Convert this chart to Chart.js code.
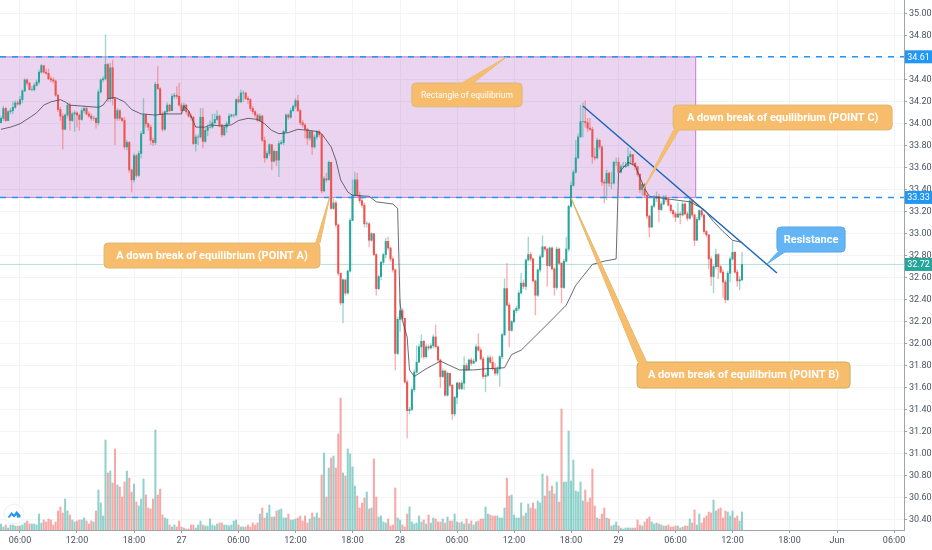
<!DOCTYPE html>
<html>
<head>
<meta charset="utf-8">
<title>Rectangle of equilibrium</title>
<script src="https://cdn.jsdelivr.net/npm/chart.js@4"></script>
<style>
html, body { margin: 0; padding: 0; background: #fff; overflow: hidden; }
canvas { display: block; }
</style>
</head>
<body>
<canvas id="chart" width="932" height="550"></canvas>
<script>
// 15 minute candles. Each candle opens at the previous close.
var firstOpen = 34.01;
var closes = [
  34.05,34.14,34.03,34.11,34.12,34.15,34.19,34.18,34.22,34.30,
  34.40,34.37,34.31,34.31,34.35,34.38,34.47,34.53,34.47,34.46,
  34.41,34.40,34.39,34.26,34.13,34.07,33.95,34.08,34.17,34.03,
  34.09,34.10,34.08,34.04,34.12,34.14,34.09,34.07,34.05,34.05,
  34.01,34.29,34.40,34.41,34.54,34.23,34.51,34.23,34.05,34.12,
  34.05,34.03,33.79,33.83,33.58,33.49,33.71,33.53,33.73,33.91,
  34.08,34.00,33.97,33.85,33.83,34.36,34.32,34.09,33.95,34.11,
  34.17,34.12,34.25,34.26,34.25,34.17,34.12,34.17,34.11,34.07,
  34.06,33.82,33.88,33.88,34.06,33.84,33.94,33.97,33.97,34.01,
  34.04,34.07,33.99,33.90,33.97,34.00,34.07,34.08,34.08,34.22,
  34.20,34.28,34.28,34.23,34.22,34.14,34.11,34.08,34.03,34.07,
  33.85,33.69,33.73,33.81,33.66,33.75,33.67,33.82,33.83,33.93,
  34.08,34.06,34.12,34.16,34.21,34.12,34.01,33.99,33.95,33.87,
  33.93,
  33.79,33.88,33.93,33.90,33.39,33.50,33.49,33.65,33.23,33.28,
  33.08,32.64,32.37,32.58,32.46,32.66,33.12,33.35,33.49,33.35,
  33.30,33.26,33.09,33.09,32.94,33.00,32.81,32.50,32.61,32.74,
  32.81,32.93,32.87,32.77,32.67,31.91,32.22,32.30,32.23,31.65,
  31.39,31.40,31.58,31.74,31.83,31.97,32.02,31.88,31.97,31.96,
  31.98,32.06,31.97,31.85,31.70,31.75,31.53,31.73,31.62,31.36,
  31.51,31.64,31.59,31.64,31.80,31.76,31.85,31.82,31.84,31.97,
  31.94,31.86,31.70,31.71,31.87,31.83,31.77,31.73,31.77,31.88,
  32.08,32.50,32.35,32.12,32.20,32.30,32.32,32.46,32.55,32.52,
  32.76,32.81,32.77,32.57,32.44,32.67,32.79,32.88,32.86,32.71,
  32.87,32.68,32.51,32.86,32.73,32.51,32.75,32.86,33.25,
  33.44,33.56,33.69,33.88,34.02,34.02,34.01,33.96,33.95,33.70,
  33.69,33.85,33.79,33.47,33.46,33.55,33.46,33.46,33.65,33.65,
  33.56,33.61,33.61,33.62,33.70,33.72,33.64,33.61,33.54,33.40,
  33.45,33.35,33.16,33.06,33.25,33.32,33.34,33.22,33.27,33.33,
  33.31,33.26,33.21,33.18,33.15,33.18,33.17,33.27,33.18,33.14,
  33.30,33.17,32.94,33.13,33.21,33.17,33.02,32.99,32.77,32.61,
  32.70,32.81,32.70,32.65,32.56,32.40,32.64,32.77,32.83,32.65,
  32.57,32.58,32.72
];
var highs = [
  34.07,34.16,34.15,34.12,34.14,34.20,34.21,34.21,34.25,34.31,
  34.41,34.41,34.38,34.34,34.37,34.40,34.49,34.54,34.53,34.50,
  34.50,34.43,34.42,34.40,34.27,34.15,34.09,34.09,34.19,34.19,
  34.11,34.12,34.11,34.09,34.14,34.16,34.15,34.11,34.09,34.07,
  34.06,34.31,34.41,34.43,34.81,34.55,34.55,34.58,34.22,34.14,
  34.13,34.06,34.06,33.85,33.84,33.59,33.73,33.72,33.75,33.93,
  34.23,34.09,34.01,33.99,33.87,34.38,34.52,34.33,34.11,34.12,
  34.19,34.18,34.27,34.28,34.34,34.37,34.19,34.19,34.18,34.12,
  34.09,34.07,33.90,33.90,34.14,34.14,33.96,33.99,34.03,34.09,
  34.09,34.12,34.08,33.99,33.99,34.02,34.09,34.09,34.09,34.23,
  34.25,34.31,34.30,34.29,34.25,34.23,34.16,34.12,34.09,34.09,
  34.08,33.88,33.75,33.82,33.81,33.76,33.75,33.84,33.85,33.94,
  34.09,34.09,34.14,34.17,34.23,34.26,34.13,34.03,34.00,33.96,
  33.94,
  33.93,33.90,33.94,33.94,33.90,33.52,33.55,33.66,33.65,33.32,
  33.30,33.09,32.64,32.59,32.58,32.67,33.14,33.49,33.56,33.55,
  33.38,33.34,33.28,33.11,33.10,33.01,33.00,32.82,32.62,32.75,
  32.82,32.96,32.97,32.88,32.79,32.68,32.24,32.40,32.32,32.23,
  31.67,31.42,31.60,31.76,31.98,31.99,32.08,32.03,31.99,31.99,
  32.00,32.08,32.17,31.98,31.86,31.77,31.76,31.74,31.73,31.63,
  31.52,31.65,31.65,31.66,31.88,31.82,31.86,31.87,31.86,31.99,
  32.09,31.96,31.88,31.73,31.89,31.89,31.88,31.82,31.79,31.89,
  32.09,32.59,32.73,32.37,32.21,32.31,32.34,32.48,32.64,32.58,
  32.77,32.97,32.83,32.78,32.58,32.68,32.81,32.98,32.88,32.87,
  32.88,32.88,32.69,32.88,32.87,32.74,32.77,32.97,33.26,
  33.47,33.58,33.85,33.91,34.17,34.19,34.21,34.05,34.05,33.97,
  33.78,33.87,33.86,33.80,33.49,33.58,33.56,33.56,33.66,33.69,
  33.69,33.63,33.65,33.65,33.78,33.75,33.72,33.65,33.61,33.55,
  33.46,33.46,33.36,33.17,33.26,33.35,33.38,33.36,33.29,33.35,
  33.35,33.32,33.27,33.22,33.20,33.28,33.20,33.29,33.28,33.20,
  33.32,33.31,33.18,33.15,33.22,33.22,33.18,33.03,32.99,32.79,
  32.71,32.86,32.82,32.71,32.67,32.58,32.66,32.79,32.93,32.84,
  32.67,32.61,32.83
];
var lows = [
  34.01,34.03,34.02,34.03,34.09,34.09,34.14,34.17,34.17,34.19,
  34.29,34.35,34.31,34.30,34.30,34.34,34.36,34.46,34.46,34.45,
  34.40,34.38,34.37,34.25,34.11,34.03,33.77,33.95,34.06,33.94,
  34.02,33.93,33.97,33.94,34.03,34.10,34.08,34.06,34.03,34.03,
  33.96,33.99,34.28,34.38,34.40,34.20,34.20,34.17,33.81,34.03,
  34.03,34.02,33.77,33.76,33.56,33.38,33.47,33.51,33.52,33.69,
  33.91,33.97,33.94,33.81,33.80,33.81,34.31,34.08,33.93,33.94,
  34.09,34.11,34.12,34.23,34.23,34.16,34.09,34.12,34.09,34.06,
  34.03,33.81,33.75,33.81,33.87,33.78,33.83,33.89,33.96,33.96,
  34.00,34.03,33.97,33.88,33.89,33.92,33.99,34.06,34.06,34.07,
  34.19,34.19,34.20,34.22,34.18,34.12,34.09,34.06,34.02,34.02,
  33.84,33.65,33.68,33.71,33.58,33.65,33.62,33.52,33.81,33.81,
  33.92,34.04,34.05,34.11,34.14,34.11,33.99,33.97,33.87,33.81,
  33.85,
  33.72,33.78,33.86,33.88,33.37,33.38,33.47,33.49,33.22,33.22,
  33.06,32.62,32.35,32.19,32.44,32.45,32.65,33.12,33.34,33.34,
  33.28,33.24,33.06,33.06,32.88,32.93,32.80,32.44,32.49,32.58,
  32.72,32.78,32.85,32.75,32.65,31.76,31.90,32.11,32.21,31.64,
  31.14,31.36,31.39,31.56,31.73,31.83,31.87,31.86,31.87,31.94,
  31.95,31.96,31.96,31.83,31.60,31.69,31.52,31.52,31.61,31.31,
  31.34,31.45,31.58,31.58,31.58,31.75,31.76,31.80,31.83,31.83,
  31.93,31.85,31.68,31.56,31.70,31.82,31.76,31.71,31.71,31.61,
  31.86,32.07,32.34,31.97,32.11,32.19,32.28,32.30,32.45,32.50,
  32.49,32.75,32.75,32.56,32.26,32.43,32.65,32.78,32.84,32.52,
  32.70,32.67,32.44,32.49,32.72,32.37,32.50,32.74,32.84,
  33.24,33.43,33.55,33.68,33.88,33.88,33.97,33.93,33.94,33.64,
  33.67,33.68,33.77,33.44,33.28,33.31,33.43,33.41,33.45,33.62,
  33.55,33.55,33.60,33.60,33.61,33.63,33.62,33.58,33.52,33.37,
  33.35,33.34,33.14,32.97,33.06,33.24,33.29,33.11,33.21,33.26,
  33.29,33.25,33.19,33.15,33.11,33.15,33.09,33.16,33.17,33.12,
  33.13,33.15,32.89,32.94,33.12,33.15,33.00,32.97,32.68,32.53,
  32.46,32.68,32.59,32.64,32.42,32.37,32.39,32.56,32.76,32.64,
  32.52,32.49,32.57
];
var volumes = [
  6,3,5,2,5,5,4,4,4,5, 7,9,6,6,6,5,16,7,10,8,
  11,10,5,8,19,23,17,31,19,15, 10,8,9,10,10,12,9,6,9,8,
  19,40,27,14,90,57,59,47,81,45, 43,33,48,59,52,38,46,28,24,31,
  51,35,22,21,31,100,35,41,15,12, 11,5,3,5,3,9,3,2,1,1,
  5,5,2,5,9,5,4,4,11,5, 4,6,7,7,5,5,4,5,9,10,
  5,3,3,3,5,3,7,5,7,16, 22,12,17,25,13,13,19,20,21,12,
  12,16,10,10,11,12,14,9,14,7, 11,17,13,17,12,55,77,33,62,72,
  74,62,96,132,57,54,81,76,63,44, 34,22,27,32,38,21,22,71,33,13,
  14,8,7,11,4,5,42,12,10,5, 3,16,23,8,6,7,14,8,10,6,
  15,7,12,11,8,8,11,7,13,9, 9,16,8,7,8,6,11,6,9,5,
  8,9,11,11,23,16,15,14,14,14, 12,12,22,52,34,35,15,12,12,27,
  14,17,26,22,27,21,29,27,56,34, 54,39,44,36,48,28,121,48,48,99,
  49,70,39,38,48,29,40,28,32,61, 24,12,11,16,22,12,11,4,5,8,
  4,2,1,2,2,2,2,2,10,5, 4,8,11,13,8,6,7,6,5,4,
  4,5,3,3,4,4,2,3,4,4, 11,7,20,5,16,7,12,14,18,17,
  30,19,21,22,12,19,18,14,19,12, 14,9,18
];
// moving average, read at the bends of the line
var maIndex = [
  0,4,8,13,15,18,21,25,27,29,35,41,43,45,48,52,55,59,65,69,76,77,79,81,82,86,88,93,97,100,
  104,108,111,114,117,121,125,130,133,135,139,141,143,146,148,155,158,165,167,168,169,171,172,174,
  179,185,189,193,199,204,212,215,219,227,233,238,242,249,254,259,260,264,267,271,273,283,290,296,300,304,308,312
];
var maValues = [
  33.95,33.97,34.00,34.07,34.10,34.17,34.20,34.22,34.20,34.17,34.16,34.15,34.17,34.23,34.24,34.20,34.13,34.09,34.08,34.09,
  34.09,34.16,34.12,34.02,33.97,33.97,33.99,33.98,33.99,34.03,
  34.05,34.04,34.00,33.94,33.91,33.92,33.95,33.94,33.93,33.91,33.79,33.67,33.49,33.38,33.35,33.34,33.29,33.27,33.23,32.37,32.21,32.06,31.76,31.70,
  31.77,31.84,31.80,31.76,31.76,31.77,31.78,31.90,31.94,32.11,32.24,32.35,32.53,32.72,32.75,32.77,33.55,33.65,33.62,33.41,33.34,33.31,33.29,33.22,33.11,33.02,32.94,32.92
];
var lastPrice = 32.72;
var rectTop = 34.61;
var rectBottom = 33.33;
var rectEndIndex = 292.5;
var trendIndex = [245, 326.7];
var trendPrice = [34.162, 32.642];

var priceTicks = [35,34.8,34.6,34.4,34.2,34,33.8,33.6,33.4,33.2,33,32.8,32.6,32.4,32.2,32,31.8,31.6,31.4,31.2,31,30.8,30.6,30.4];
var timeTickIndex = [8,32,56,76,100,124,148,168,192,216,240,260,284,308,332,352,376];
var timeTickLabels = ['06:00','12:00','18:00','27','06:00','12:00','18:00','28','06:00','12:00','18:00','29','06:00','12:00','18:00','Jun','06:00'];

var xMin = -0.42, xMax = 380.2;
var priceMin = 30.303, priceMax = 35.127;
var volumeMax = 530;
var upColor = '#26a69a', downColor = '#ef5350';
var tickFont = '9px "Liberation Sans Narrow", Roboto, sans-serif';

// speech bubbles: box and tip in candle index / price
var notes = [
  { text: 'Rectangle of equilibrium', left: 173, right: 219.4, top: 34.371, bottom: 34.155, tipX: 212.8, tipY: 34.608, base: [194, 198.7], baseY: 34.371, font: '8.5px Roboto', fill: '#f7bd6c', edge: '#dcb878' },
  { text: 'A down break of equilibrium (POINT A)', left: 43.4, right: 134.3, top: 32.915, bottom: 32.687, tipX: 138.5, tipY: 33.342, base: [132.5, 134.3], baseY: 32.915, font: 'bold 11px Roboto', fill: '#f7bd6c', edge: '#dcb878' },
  { text: 'A down break of equilibrium (POINT B)', left: 267.8, right: 357.5, top: 31.832, bottom: 31.595, tipX: 240, tipY: 33.324, base: [268.2, 271.8], baseY: 31.832, font: 'bold 11px Roboto', fill: '#f7bd6c', edge: '#c9b060' },
  { text: 'A down break of equilibrium (POINT C)', left: 283, right: 375.2, top: 34.171, bottom: 33.944, tipX: 270.3, tipY: 33.397, base: [283.2, 285.5], baseY: 33.944, font: 'bold 11px Roboto', fill: '#f7bd6c', edge: '#dcb878' },
  { text: 'Resistance', left: 326.7, right: 355.4, top: 33.061, bottom: 32.833, tipX: 322.5, tipY: 32.724, base: [327, 330], baseY: 32.833, font: 'bold 11px Roboto', fill: '#64b5f6', edge: '#5aa8e6' }
];

var candleIndex = closes.map(function(c, i) { return i; });
var opens = closes.map(function(c, i) { return i === 0 ? firstOpen : closes[i - 1]; });
var candleColor = closes.map(function(c, i) { return c >= opens[i] ? upColor : downColor; });
var wickColor = candleColor.map(function(c) { return c === upColor ? 'rgba(38,166,154,0.45)' : 'rgba(239,83,80,0.45)'; });
var volumeColor = candleColor.map(function(c) { return c === upColor ? 'rgba(38,166,154,0.5)' : 'rgba(239,83,80,0.5)'; });

function flatLine(price) {
  return [{ x: xMin, y: price }, { x: xMax, y: price }];
}

function roundBox(ctx, x, y, w, h, r) {
  ctx.beginPath();
  ctx.moveTo(x + r, y);
  ctx.arcTo(x + w, y, x + w, y + h, r);
  ctx.arcTo(x + w, y + h, x, y + h, r);
  ctx.arcTo(x, y + h, x, y, r);
  ctx.arcTo(x, y, x + w, y, r);
  ctx.closePath();
}

var drawings = {
  id: 'drawings',
  beforeDatasetsDraw: function(chart) {
    var ctx = chart.ctx, sx = chart.scales.x, sy = chart.scales.y;
    // the rectangle starts left of the visible range
    var x0 = sx.getPixelForValue(xMin) - 4, x1 = sx.getPixelForValue(rectEndIndex);
    var y0 = sy.getPixelForValue(rectTop), y1 = sy.getPixelForValue(rectBottom);
    ctx.save();
    ctx.fillStyle = 'rgba(156,39,176,0.2)';
    ctx.fillRect(x0, y0, x1 - x0, y1 - y0);
    ctx.strokeStyle = 'rgba(156,39,176,0.55)';
    ctx.lineWidth = 1;
    ctx.strokeRect(x0, y0, x1 - x0, y1 - y0);
    ctx.restore();
  },
  afterDraw: function(chart) {
    var ctx = chart.ctx, sx = chart.scales.x, sy = chart.scales.y;
    ctx.save();
    notes.forEach(function(n) {
      var l = sx.getPixelForValue(n.left), r = sx.getPixelForValue(n.right);
      var t = sy.getPixelForValue(n.top), b = sy.getPixelForValue(n.bottom);
      ctx.fillStyle = n.fill;
      ctx.strokeStyle = n.edge;
      ctx.lineWidth = 1;
      roundBox(ctx, l, t, r - l, b - t, 4);
      ctx.fill();
      ctx.stroke();
      ctx.beginPath();
      ctx.moveTo(sx.getPixelForValue(n.base[0]), sy.getPixelForValue(n.baseY));
      ctx.lineTo(sx.getPixelForValue(n.tipX), sy.getPixelForValue(n.tipY));
      ctx.lineTo(sx.getPixelForValue(n.base[1]), sy.getPixelForValue(n.baseY));
      ctx.stroke();
      ctx.fill();
      // hide the seam between box and pointer
      ctx.fillRect(sx.getPixelForValue(n.base[0]) + 0.5, sy.getPixelForValue(n.baseY) - 1, sx.getPixelForValue(n.base[1]) - sx.getPixelForValue(n.base[0]) - 1, 2);
      ctx.fillStyle = '#fff';
      ctx.font = n.font;
      ctx.textAlign = 'center';
      ctx.textBaseline = 'middle';
      ctx.fillText(n.text, (l + r) / 2, (t + b) / 2 + 0.5);
    });

    // price tags on the axis
    var tags = [[rectTop, '#2196f3'], [rectBottom, '#2196f3'], [lastPrice, upColor]];
    tags.forEach(function(tag) {
      var y = sy.getPixelForValue(tag[0]);
      ctx.fillStyle = tag[1];
      ctx.fillRect(sx.right + 1, y - 6.5, chart.width - sx.right - 1, 13);
      ctx.fillStyle = '#fff';
      ctx.font = tickFont;
      ctx.textAlign = 'center';
      ctx.textBaseline = 'middle';
      ctx.fillText(tag[0].toFixed(2), (sx.right + 1 + chart.width) / 2, y + 0.5);
    });

    // small logo, bottom left
    var cx = 14, cy = 514;
    ctx.fillStyle = '#fff';
    ctx.strokeStyle = '#eceff4';
    ctx.beginPath();
    ctx.arc(cx, cy, 10, 0, Math.PI * 2);
    ctx.fill();
    ctx.stroke();
    ctx.fillStyle = '#2196f3';
    ctx.beginPath();
    ctx.moveTo(cx - 6.5, cy + 3.5);
    ctx.lineTo(cx - 2.5, cy - 2);
    ctx.lineTo(cx, cy + 0.5);
    ctx.lineTo(cx + 2.5, cy - 3);
    ctx.lineTo(cx + 6.5, cy + 1);
    ctx.lineTo(cx + 6.5, cy + 3.5);
    ctx.lineTo(cx + 3, cy + 3.5);
    ctx.lineTo(cx + 2.5, cy + 1);
    ctx.lineTo(cx, cy + 3.5);
    ctx.lineTo(cx - 2.5, cy + 1);
    ctx.lineTo(cx - 4, cy + 3.5);
    ctx.closePath();
    ctx.fill();
    ctx.restore();
  }
};

// no room kept for labels sticking past the ends of an axis
function noPadding(scale) {
  scale.paddingLeft = 0;
  scale.paddingRight = 0;
  scale.paddingTop = 0;
  scale.paddingBottom = 0;
}

var chart = new Chart(document.getElementById('chart').getContext('2d'), {
  type: 'bar',
  data: {
    datasets: [
      {
        label: 'Volume', yAxisID: 'volume', order: 6, grouped: false, barThickness: 1.4,
        backgroundColor: volumeColor,
        data: candleIndex.map(function(i) { return { x: i, y: volumes[i] }; })
      },
      {
        label: 'Wick', yAxisID: 'y', order: 5, grouped: false, barThickness: 0.7,
        backgroundColor: wickColor,
        data: candleIndex.map(function(i) { return { x: i, y: [lows[i], highs[i]] }; })
      },
      {
        label: 'Body', yAxisID: 'y', order: 4, grouped: false, barThickness: 1.4,
        backgroundColor: candleColor,
        data: candleIndex.map(function(i) { return { x: i, y: [opens[i], closes[i]] }; })
      },
      {
        type: 'line', label: 'MA', yAxisID: 'y', order: 3,
        borderColor: 'rgba(70,70,80,0.8)', borderWidth: 1, pointRadius: 0, tension: 0,
        data: maIndex.map(function(v, i) { return { x: v, y: maValues[i] }; })
      },
      {
        type: 'line', label: 'Last', yAxisID: 'y', order: 7,
        borderColor: 'rgba(38,166,154,0.35)', borderWidth: 1, pointRadius: 0,
        data: flatLine(lastPrice)
      },
      {
        type: 'line', label: 'Top', yAxisID: 'y', order: 2,
        borderColor: '#2196f3', borderWidth: 1.4, borderDash: [6, 6], pointRadius: 0,
        data: flatLine(rectTop)
      },
      {
        type: 'line', label: 'Bottom', yAxisID: 'y', order: 2,
        borderColor: '#2196f3', borderWidth: 1.4, borderDash: [6, 6], pointRadius: 0,
        data: flatLine(rectBottom)
      },
      {
        type: 'line', label: 'Trend', yAxisID: 'y', order: 1,
        borderColor: '#1a66b8', borderWidth: 1.5, pointRadius: 0,
        data: trendIndex.map(function(v, i) { return { x: v, y: trendPrice[i] }; })
      }
    ]
  },
  options: {
    responsive: false,
    animation: false,
    layout: { padding: 0 },
    plugins: { legend: { display: false }, tooltip: { enabled: false } },
    scales: {
      x: {
        type: 'linear',
        offset: false,
        min: xMin,
        max: xMax,
        afterBuildTicks: function(scale) {
          scale.ticks = timeTickIndex.map(function(v) { return { value: v }; });
        },
        afterFit: function(scale) { scale.height = 20; noPadding(scale); },
        grid: { offset: false, color: '#f2f4f8', tickLength: 3, tickColor: '#9a9ea6' },
        border: { color: '#a0a3a8' },
        ticks: {
          autoSkip: false, maxRotation: 0, padding: 2, color: '#4c525e', font: { family: '"Liberation Sans Narrow", Roboto, sans-serif', size: 9 },
          callback: function(value) { return timeTickLabels[timeTickIndex.indexOf(value)]; }
        }
      },
      y: {
        position: 'right',
        min: priceMin,
        max: priceMax,
        afterBuildTicks: function(scale) {
          scale.ticks = priceTicks.map(function(v) { return { value: v }; });
        },
        afterFit: function(scale) { scale.width = 28; noPadding(scale); },
        grid: { color: '#f2f4f8', tickLength: 3, tickColor: '#9a9ea6' },
        border: { color: '#a0a3a8' },
        ticks: {
          padding: 2, color: '#4c525e', font: { family: '"Liberation Sans Narrow", Roboto, sans-serif', size: 9 },
          callback: function(value) { return value.toFixed(2); }
        }
      },
      volume: { display: false, position: 'left', min: 0, max: volumeMax }
    }
  },
  plugins: [drawings]
});
</script>
</body>
</html>
